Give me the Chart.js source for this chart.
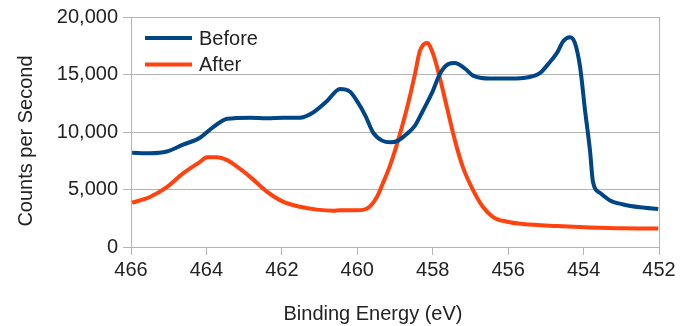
<!DOCTYPE html>
<html><head><meta charset="utf-8">
<script src="https://cdn.jsdelivr.net/npm/chart.js@4/dist/chart.umd.min.js"></script>
<style>html,body{margin:0;padding:0;background:#fff}#wrap{width:680px;height:326px}</style>
</head><body><div id="wrap"><canvas id="c" width="680" height="326"></canvas></div>
<script>
const seriesNames = ["Before", "After"];
const xTitle = "Binding Energy (eV)";
const yTitle = "Counts per Second";
const beforeEnergy = [465.97,465.50,465.05,464.62,464.17,463.83,463.45,462.84,462.39,461.97,461.52,461.17,460.80,460.46,460.19,460.01,459.79,459.58,459.34,459.13,458.92,458.68,458.47,458.26,458.02,457.81,457.59,457.41,457.14,456.93,456.48,456.03,455.60,455.15,454.94,454.70,454.54,454.36,454.23,454.09,453.96,453.83,453.75,453.56,453.30,452.95,452.50,452.02];
const beforeCounts = [8200,8150,8300,8900,9500,10400,11150,11250,11200,11250,11250,11700,12700,13750,13500,12700,11450,9950,9250,9100,9250,9850,10550,11850,13400,15050,15900,16000,15500,14900,14650,14650,14700,15150,15900,16900,17900,18250,17750,15600,11850,8400,5650,4700,4050,3700,3450,3300];
const afterEnergy = [465.97,465.50,465.05,464.62,464.17,463.98,463.72,463.45,463.30,462.84,462.39,461.97,461.52,461.07,460.64,460.46,460.01,459.74,459.48,459.32,459.13,458.92,458.68,458.47,458.34,458.15,457.99,457.81,457.62,457.41,457.20,456.93,456.67,456.40,456.03,455.60,454.70,453.83,452.95,452.02];
const afterCounts = [3850,4350,5200,6400,7400,7800,7800,7550,7250,6100,4800,3950,3500,3250,3150,3200,3200,3350,4350,5550,7100,9250,12100,15050,17050,17750,16800,14700,12100,9250,6950,4950,3500,2600,2200,2000,1820,1700,1620,1600];
const yTicks = [0,5000,10000,15000,20000];
const xTicks = [466,464,462,460,458,456,454,452];

const FONT = "'Liberation Sans', Arial, sans-serif";
const GRID = '#b3b3b3';
const TEXT = '#222';
const toPts = (xs, ys) => xs.map((x, i) => ({x: x, y: ys[i]}));

const extras = {
  id: 'extras',
  afterDraw(chart) {
    const ctx = chart.ctx;
    const ca = chart.chartArea;
    ctx.save();
    ctx.font = '20px ' + FONT;
    ctx.textBaseline = 'middle';
    chart.data.datasets.forEach((ds, i) => {
      const y = ca.top + 21 + i * 26.5;
      const x0 = ca.left + 14;
      ctx.strokeStyle = ds.borderColor;
      ctx.lineWidth = 4;
      ctx.beginPath(); ctx.moveTo(x0, y); ctx.lineTo(x0 + 47, y); ctx.stroke();
      ctx.fillStyle = TEXT;
      ctx.textAlign = 'left';
      ctx.fillText(ds.label, x0 + 54, y + 1);
    });
    ctx.strokeStyle = GRID; ctx.lineWidth = 1;
    ctx.beginPath(); ctx.moveTo(Math.round(ca.right) + 0.5, ca.top); ctx.lineTo(Math.round(ca.right) + 0.5, ca.bottom); ctx.stroke();
    ctx.fillStyle = TEXT;
    ctx.textAlign = 'center';
    ctx.fillText(xTitle, 373, 314);
    ctx.translate(25, 141);
    ctx.rotate(-Math.PI / 2);
    ctx.fillText(yTitle, 0, 1);
    ctx.restore();
  }
};

new Chart(document.getElementById('c'), {
  type: 'scatter',
  data: {
    datasets: [
      {label: seriesNames[0], data: toPts(beforeEnergy, beforeCounts), showLine: true, borderColor: '#004586', backgroundColor: '#004586', borderWidth: 4, pointRadius: 0, cubicInterpolationMode: 'monotone'},
      {label: seriesNames[1], data: toPts(afterEnergy, afterCounts), showLine: true, borderColor: '#ff420e', backgroundColor: '#ff420e', borderWidth: 4, pointRadius: 0, cubicInterpolationMode: 'monotone'}
    ]
  },
  options: {
    responsive: false, animation: false,
    layout: {padding: {left: 0, right: 21, top: 16, bottom: 0}},
    plugins: {legend: {display: false}, tooltip: {enabled: false}},
    scales: {
      x: {
        type: 'linear', reverse: true, min: 452, max: 466,
        afterBuildTicks: s => { s.ticks = xTicks.map(v => ({value: v})); },
        afterFit: s => { s.height = 79; },
        grid: {drawOnChartArea: false, color: GRID, tickLength: 8, tickColor: GRID},
        border: {color: GRID},
        ticks: {color: TEXT, font: {family: FONT, size: 20}, padding: 3, maxRotation: 0}
      },
      y: {
        min: 0, max: 20000,
        afterBuildTicks: s => { s.ticks = yTicks.map(v => ({value: v})); },
        afterFit: s => { s.width = 131; },
        grid: {color: GRID, tickLength: 8, tickColor: GRID},
        border: {color: GRID},
        ticks: {color: TEXT, font: {family: FONT, size: 20}, padding: 5, callback: v => v.toLocaleString('en-US')}
      }
    }
  },
  plugins: [extras]
});
</script></body></html>
